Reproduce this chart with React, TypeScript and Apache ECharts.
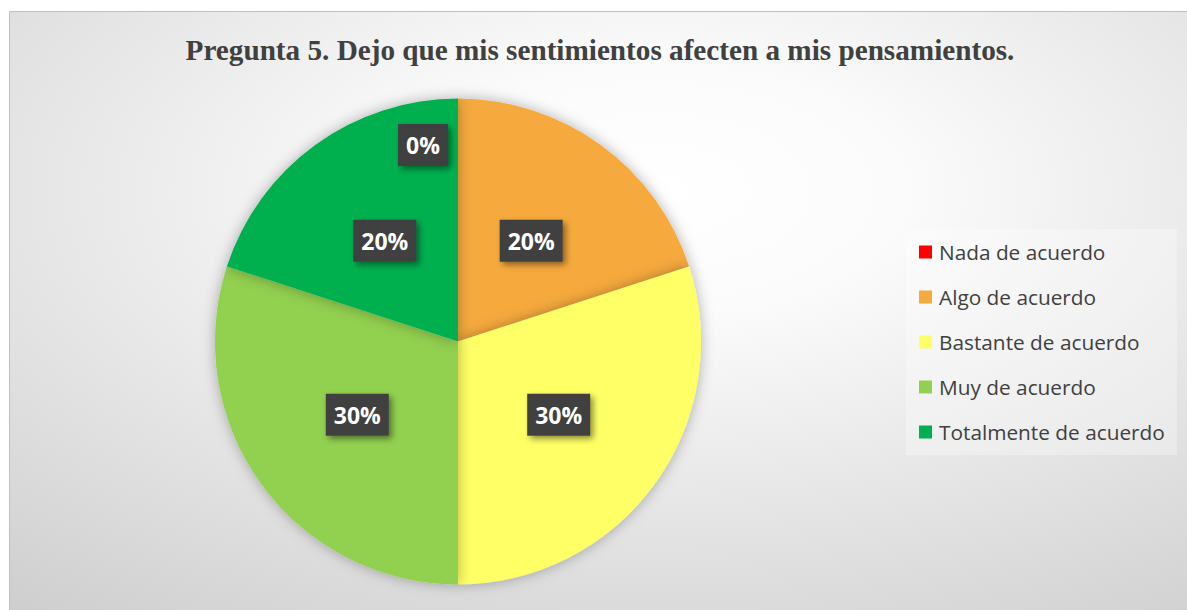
import React, { useEffect, useRef } from "react";
import * as echarts from "echarts";

const titleText = "Pregunta 5. Dejo que mis sentimientos afecten a mis pensamientos.";
const categories = [
  "Nada de acuerdo",
  "Algo de acuerdo",
  "Bastante de acuerdo",
  "Muy de acuerdo",
  "Totalmente de acuerdo",
];
const percentValues = [0, 20, 30, 30, 20];
const sliceColors = ["#FF0000", "#F6AA3D", "#FFFF66", "#92D050", "#00B050"];

export default function App() {
  const ref = useRef<HTMLDivElement>(null);
  useEffect(() => {
    if (!ref.current) return;
    const chart = echarts.init(ref.current, undefined, { renderer: "svg" });
    const data = categories.map((name, i) => {
      const item: any = {
        name,
        value: percentValues[i],
        itemStyle: { color: sliceColors[i] },
      };
      if (percentValues[i] === 0) {
        item.label = { offset: [-35, -72] };
      }
      return item;
    });
    chart.setOption({
      animation: false,
      backgroundColor: "#ffffff",
      graphic: [
        {
          type: "rect",
          silent: true,
          z: -10,
          shape: { x: 9.5, y: 11.5, width: 1180, height: 600 },
          style: {
            fill: new echarts.graphic.RadialGradient(0.55, 0.3, 1.15, [
              { offset: 0, color: "#ffffff" },
              { offset: 0.18, color: "#fbfbfb" },
              { offset: 1, color: "#bdbdbd" },
            ]),
            stroke: "#bfbfbf",
            lineWidth: 1,
          },
        },
      ],
      title: {
        text: titleText,
        left: 595,
        top: 30,
        textAlign: "center",
        textStyle: {
          fontFamily: "Liberation Serif",
          fontWeight: "bold",
          fontSize: 29.2,
          color: "#404040",
        },
      },
      legend: {
        orient: "vertical",
        left: 906,
        top: 229,
        padding: [12, 12, 12, 13],
        backgroundColor: "rgba(255,255,255,0.3)",
        itemWidth: 13,
        itemHeight: 13,
        itemGap: 23,
        icon: "rect",
        selectedMode: false,
        data: categories,
        textStyle: {
          fontFamily: "Open Sans",
          fontSize: 20.8,
          lineHeight: 22,
          color: "#404040",
          padding: [0, 0, 0, 2],
        },
      },
      series: [
        {
          type: "pie",
          center: [458, 341.5],
          radius: 243,
          startAngle: 90,
          clockwise: true,
          avoidLabelOverlap: false,
          silent: true,
          itemStyle: {
            shadowBlur: 14,
            shadowColor: "rgba(0,0,0,0.3)",
          },
          label: {
            show: true,
            position: "inside",
            formatter: (p: any) => `${p.value}%`,
            fontFamily: "Open Sans",
            fontWeight: "bold",
            fontSize: 23,
            lineHeight: 24,
            color: "#ffffff",
            backgroundColor: "#404040",
            padding: [9, 8, 9, 8],
            shadowColor: "rgba(0,0,0,0.45)",
            shadowBlur: 6,
            shadowOffsetX: 3,
            shadowOffsetY: 3,
          },
          labelLine: { show: false },
          emphasis: { disabled: true },
          data,
        },
      ],
    });
    return () => chart.dispose();
  }, []);
  return (
    <div
      ref={ref}
      style={{ position: "absolute", left: 0, top: 0, width: 1187, height: 610 }}
    />
  );
}
